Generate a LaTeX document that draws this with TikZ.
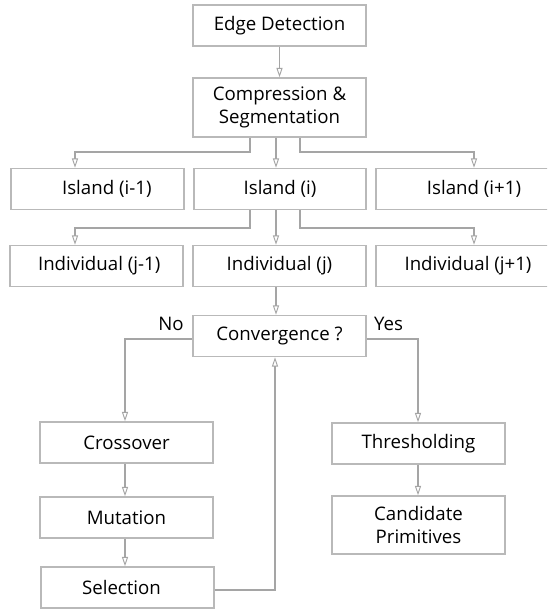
\documentclass[tikz,border=0pt]{standalone}
\usepackage{fontspec}
\setmainfont{Open Sans}
\usetikzlibrary{arrows.meta}
\definecolor{lc}{RGB}{165,165,165}
\definecolor{bc}{RGB}{185,185,185}
\begin{document}
\begin{tikzpicture}[x=0.75pt,y=-0.75pt,
  box/.style={draw=bc, line width=1.1pt, fill=white, inner sep=0pt, align=center,
    minimum width=129.75pt, minimum height=30.75pt,
    font=\fontsize{14}{17.5}\selectfont},
  lbl/.style={inner sep=0pt, font=\fontsize{14}{17.5}\selectfont},
  conn/.style={draw=lc, line width=1.3pt,
    -{Triangle[open, length=7pt, width=4.5pt, line width=0.7pt]}}]
\path[use as bounding box] (0,0) rectangle (547,610);
\clip (0,0) rectangle (547,610);
\fill[white] (0,0) rectangle (547,610);

% boxes
\node[box] (ed) at (279.5,25.5) {Edge Detection};
\node[box, minimum height=44.25pt] (cs) at (279.5,107.5) {Compression \&\\Segmentation};
\node[box] (i1) at (97.5,189) {\hspace*{14pt}Island (i-1)};
\node[box, minimum width=129pt] (i2) at (280,189) {Island (i)};
\node[box, minimum width=147pt] (i3) at (474,189) {Island (i+1)};
\node[box] (n1) at (96.5,266) {\hspace*{4pt}Individual (j-1)};
\node[box] (n2) at (279.5,266) {Individual (j)};
\node[box, minimum width=147pt] (n3) at (474,266) {Individual (j+1)\hspace*{9pt}};
\node[box] (cv) at (279.5,336) {Convergence ?};
\node[box] (co) at (126.5,442.5) {Crossover};
\node[box] (mu) at (126.5,517.5) {Mutation};
\node[box] (se) at (127.5,587.5) {Selection\hspace*{9pt}};
\node[box] (th) at (418.5,443.5) {Thresholding};
\node[box, minimum height=43.5pt] (cp) at (418.5,525) {Candidate\\Primitives};

\node[lbl] (no) at (171,324) {No};
\node[lbl] (yes) at (388.5,324) {Yes};

% x positions of connectors
\coordinate (xa) at (250,0);
\coordinate (xb) at (276,0);
\coordinate (xc) at (300,0);
\coordinate (xl) at (75,0);
\coordinate (xr) at (474,0);
\coordinate (xn) at (125,0);
\coordinate (xy) at (418,0);
\coordinate (xu) at (275,0);
\coordinate (yh) at (0,339);
\coordinate (ys) at (0,590);

% connectors
\draw[conn] (ed) -- (cs);
\draw[conn] (cs.south -| xa) -- ++(0,14) -| (i1.north -| xl);
\draw[conn] (cs.south -| xb) -- (i2.north -| xb);
\draw[conn] (cs.south -| xc) -- ++(0,14) -| (i3.north -| xr);
\draw[conn] (i2.south -| xa) -- ++(0,18) -| (n1.north -| xl);
\draw[conn] (i2.south -| xb) -- (n2.north -| xb);
\draw[conn] (i2.south -| xc) -- ++(0,18) -| (n3.north -| xr);
\draw[conn] (n2.south -| xb) -- (cv.north -| xb);
\draw[conn] (cv.west |- yh) -| (co.north -| xn);
\draw[conn] (cv.east |- yh) -| (th.north -| xy);
\draw[conn] (co.south -| xn) -- (mu.north -| xn);
\draw[conn] (mu.south -| xn) -- (se.north -| xn);
\draw[conn] (th.south -| xy) -- (cp.north -| xy);
\draw[conn] (se.east |- ys) -| (cv.south -| xu);
\end{tikzpicture}
\end{document}
